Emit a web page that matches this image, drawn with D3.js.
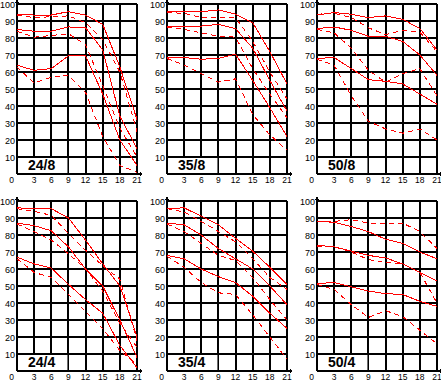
<!DOCTYPE html>
<html>
<head>
<meta charset="utf-8">
<script src="https://cdn.jsdelivr.net/npm/d3@7"></script>
<style>
  body { margin: 0; background: #fff; }
  text { font-family: "Liberation Sans", Arial, sans-serif; }
</style>
</head>
<body>
<div id="chart"></div>
<script>

const days = [0, 3, 6, 9, 12, 15, 18, 21];
const xTicks = [3, 6, 9, 12, 15, 18, 21];
const yTicks = [10, 20, 30, 40, 50, 60, 70, 80, 90, 100];
const panelNames = ['24/8', '35/8', '50/8', '24/4', '35/4', '50/4'];

const solid_24_8 = [
    [94, 93.5, 93.5, 95.5, 93.5, 88, 63, 32],
    [85, 84, 84, 86.5, 86, 73, 34, 15],
    [64, 61, 62, 69.5, 69.5, 47, 20, 5]
];
const dashed_24_8 = [
    [93.5, 92, 92.5, 93, 89, 79, 60, 25],
    [84, 80.5, 81.5, 82.5, 76, 52, 27, 10],
    [63, 53.5, 57, 58, 48, 22, 5, 1]
];

const solid_35_8 = [
    [95.5, 95.5, 95.5, 96.5, 94, 89, 72, 53],
    [87, 86.5, 87, 88, 85.5, 74, 55, 37],
    [68.5, 68.5, 67.5, 68, 70.5, 55, 39, 22]
];
const dashed_35_8 = [
    [95, 94.5, 92, 92, 92, 78, 60, 44],
    [86.5, 85, 83, 81, 80.5, 62, 47, 33],
    [68, 64, 59, 54, 56, 35, 23, 14]
];

const solid_50_8 = [
    [93.5, 95, 94, 92, 93, 91, 85.5, 73],
    [85.5, 86.5, 84.5, 81, 81, 78, 70, 58],
    [68, 68.5, 62, 55.5, 54.5, 53, 47, 41]
];
const dashed_50_8 = [
    [94, 94.5, 92, 86, 82, 84.5, 83.5, 72],
    [85, 83, 74, 61, 54, 59, 62, 46],
    [67.5, 64, 46, 31, 26.5, 24, 26.5, 20]
];

const solid_24_4 = [
    [96, 95.5, 95.5, 90, 77, 63, 50, 20],
    [87, 85.5, 82.5, 73, 60, 50, 30, 8],
    [67, 63, 60.5, 51, 42, 34, 15, 2]
];
const dashed_24_4 = [
    [95.5, 94, 91.5, 81, 71, 62, 54, 18],
    [86.5, 82, 77, 69, 60, 47, 28, 14],
    [66, 58, 55, 45, 35, 25, 12, 4]
];

const solid_35_4 = [
    [95.5, 96, 91, 86, 78, 70.5, 61, 51],
    [87, 86, 80, 72, 66, 60, 50, 39],
    [68, 66, 60, 55.5, 52, 44, 34, 25]
];
const dashed_35_4 = [
    [95.5, 93.5, 88, 82, 76, 66, 55, 48],
    [86.5, 82, 75, 68, 65, 55, 42, 30],
    [67.5, 61, 52, 46, 45, 33, 20, 7]
];

const solid_50_4 = [
    [88, 87.5, 85, 82, 77.5, 75, 70, 66],
    [74, 73, 70.5, 68, 66.5, 63, 58, 53],
    [51.5, 52, 49.5, 47, 45.5, 45, 41, 38]
];
const dashed_50_4 = [
    [88, 88, 89, 87, 87, 87, 82, 72],
    [73.5, 73, 70, 65.5, 64, 63, 58, 40],
    [51, 48, 39, 31.5, 35.5, 32, 24, 16]
];

const solidSets = [solid_24_8, solid_35_8, solid_50_8, solid_24_4, solid_35_4, solid_50_4];
const dashedSets = [dashed_24_8, dashed_35_8, dashed_50_8, dashed_24_4, dashed_35_4, dashed_50_4];

const width = 441,
    height = 382;
const pw = 120,
    ph = 170;
const colLeft = [17, 167, 317];
const rowTop = [4, 201];

const svg = d3.select('#chart').append('svg')
    .attr('width', width)
    .attr('height', height)
    .style('display', 'block');

svg.append('rect')
    .attr('width', width)
    .attr('height', height)
    .attr('fill', '#fff');

const xScale = d3.scaleLinear().domain([0, 21]).range([0, pw]);
const yScale = d3.scaleLinear().domain([0, 100]).range([ph, 0]);

const line = d3.line()
    .x((d, i) => xScale(days[i]))
    .y(d => yScale(d));

panelNames.forEach((name, p) => {
    const g = svg.append('g')
        .attr('transform', `translate(${colLeft[p % 3]}, ${rowTop[Math.floor(p / 3)]})`);

    // grid
    g.selectAll('.hgrid')
        .data(yTicks)
        .enter()
        .append('line')
        .attr('x1', 0)
        .attr('x2', pw)
        .attr('y1', d => yScale(d))
        .attr('y2', d => yScale(d))
        .attr('stroke', '#000')
        .attr('stroke-width', 2)
        .attr('shape-rendering', 'crispEdges');

    g.selectAll('.vgrid')
        .data(xTicks)
        .enter()
        .append('line')
        .attr('x1', d => xScale(d))
        .attr('x2', d => xScale(d))
        .attr('y1', 0)
        .attr('y2', ph)
        .attr('stroke', '#000')
        .attr('stroke-width', 2)
        .attr('shape-rendering', 'crispEdges');

    // axes with little end marks
    g.append('line')
        .attr('x1', 0).attr('x2', 0)
        .attr('y1', ph).attr('y2', -4)
        .attr('stroke', '#000').attr('stroke-width', 2)
        .attr('shape-rendering', 'crispEdges');
    g.append('line')
        .attr('x1', -2).attr('x2', 2)
        .attr('y1', -2).attr('y2', -2)
        .attr('stroke', '#000').attr('stroke-width', 1)
        .attr('shape-rendering', 'crispEdges');
    g.append('line')
        .attr('x1', 0).attr('x2', pw + 5)
        .attr('y1', ph).attr('y2', ph)
        .attr('stroke', '#000').attr('stroke-width', 2)
        .attr('shape-rendering', 'crispEdges');
    g.append('line')
        .attr('x1', pw + 3).attr('x2', pw + 3)
        .attr('y1', ph - 2).attr('y2', ph + 2)
        .attr('stroke', '#000').attr('stroke-width', 1)
        .attr('shape-rendering', 'crispEdges');

    // tick labels
    g.selectAll('.ylab')
        .data(yTicks)
        .enter()
        .append('text')
        .attr('x', -2)
        .attr('y', d => yScale(d) + 3.5)
        .attr('text-anchor', 'end')
        .attr('font-size', 9)
        .text(d => d);

    g.selectAll('.xlab')
        .data(xTicks)
        .enter()
        .append('text')
        .attr('x', d => xScale(d))
        .attr('y', ph + 8.5)
        .attr('text-anchor', 'middle')
        .attr('font-size', 8.5)
        .text(d => d);

    g.append('text')
        .attr('x', -3)
        .attr('y', ph + 8.5)
        .attr('text-anchor', 'end')
        .attr('font-size', 8.5)
        .text(0);

    // label box
    g.append('rect')
        .attr('x', 1)
        .attr('y', yScale(10) + 1)
        .attr('width', xScale(9) - 2)
        .attr('height', yScale(0) - yScale(10) - 2)
        .attr('fill', '#fff');

    g.append('text')
        .attr('x', 11)
        .attr('y', ph - 4)
        .attr('font-size', 14)
        .attr('font-weight', 'bold')
        .text(name);

    // series
    g.selectAll('.solid')
        .data(solidSets[p])
        .enter()
        .append('path')
        .attr('d', line)
        .attr('fill', 'none')
        .attr('stroke', '#ff0000')
        .attr('stroke-width', 1)
        .attr('shape-rendering', 'crispEdges');

    g.selectAll('.dashed')
        .data(dashedSets[p])
        .enter()
        .append('path')
        .attr('d', line)
        .attr('fill', 'none')
        .attr('stroke', '#ff0000')
        .attr('stroke-width', 1)
        .attr('stroke-dasharray', '5,4')
        .attr('shape-rendering', 'crispEdges');
});

</script>
</body>
</html>
